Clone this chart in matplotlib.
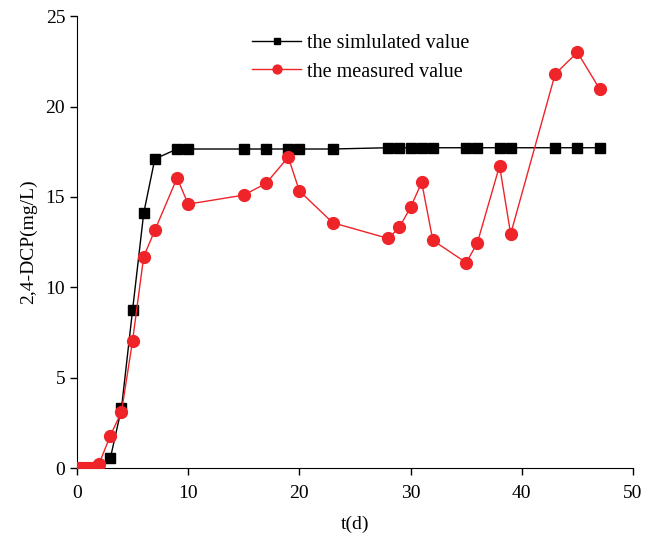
import matplotlib
matplotlib.use("Agg")
import matplotlib.pyplot as plt

# --- data ---
t_sim = [0, 0.25, 0.5, 0.75, 1.0, 1.25, 1.5, 1.75, 2.0, 3, 4, 5, 6, 7, 9, 10, 15, 17, 19, 20, 23,
         28, 29, 30, 31, 32, 35, 36, 38, 39, 43, 45, 47]
c_sim = [0, 0, 0, 0, 0, 0, 0, 0, 0, 0.55, 3.3, 8.75, 14.1, 17.1, 17.65, 17.65, 17.65, 17.65, 17.65,
         17.65, 17.65, 17.72, 17.72, 17.72, 17.72, 17.72, 17.72, 17.72, 17.72, 17.72, 17.72, 17.72, 17.72]

t_meas = [0, 0.25, 0.5, 0.75, 1.0, 1.25, 1.5, 1.75, 2.0, 3, 4, 5, 6, 7, 9, 10, 15, 17, 19, 20, 23,
          28, 29, 30, 31, 32, 35, 36, 38, 39, 43, 45, 47]
c_meas = [0, 0, 0, 0, 0, 0, 0, 0.05, 0.25, 1.8, 3.1, 7.05, 11.7, 13.15, 16.05, 14.6, 15.1, 15.75,
          17.2, 15.33, 13.57, 12.7, 13.32, 14.43, 15.8, 12.6, 11.36, 12.45, 16.72, 12.95, 21.8, 23.0, 20.97]

x_ticks = [0, 10, 20, 30, 40, 50]
y_ticks = [0, 5, 10, 15, 20, 25]

plt.rcParams['font.family'] = ['Liberation Serif', 'DejaVu Serif']

fig = plt.figure(figsize=(6.58, 5.38), dpi=100)
ax = fig.add_axes([0.117, 0.130, 0.845, 0.840])

ax.plot(t_sim, c_sim, color='black', linewidth=1.0, marker='s', markersize=6.5,
        label='the simlulated value', zorder=3)
ax.plot(t_meas, c_meas, color='#ee2429', linewidth=1.0, marker='o', markersize=8.5,
        label='the measured value', zorder=4)

ax.set_xlim(0, 50)
ax.set_ylim(0, 25)
ax.set_xticks(x_ticks)
ax.set_yticks(y_ticks)
ax.spines['top'].set_visible(False)
ax.spines['right'].set_visible(False)
ax.tick_params(direction='out', length=5, width=1, labelsize=14)
ax.tick_params(axis='x', pad=7)
ax.set_xlabel('t(d)', fontsize=14, labelpad=10)
ax.set_ylabel('2,4-DCP(mg/L)', fontsize=14, labelpad=6)

ax.legend(loc='upper left', bbox_to_anchor=(0.283, 1.0), frameon=False, fontsize=14.5,
          handlelength=2.4, handletextpad=0.3, labelspacing=0.45, markerscale=0.75)

fig.savefig('out.png', dpi=100)
